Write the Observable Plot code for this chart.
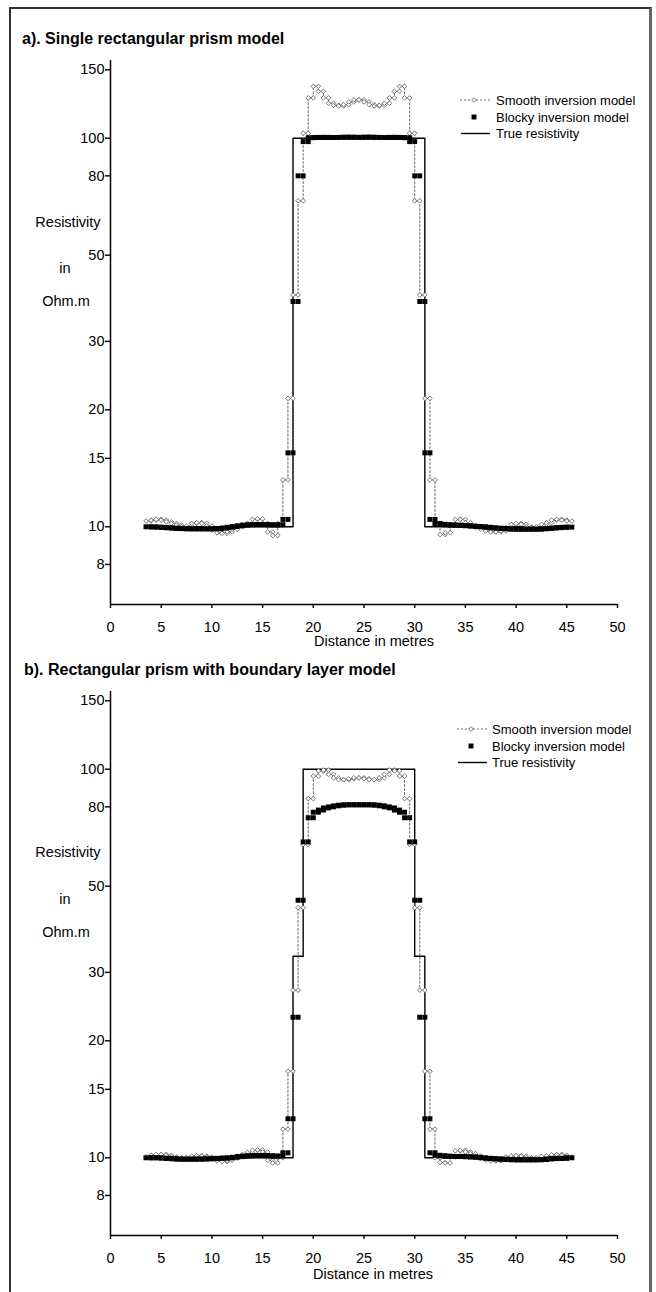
<!DOCTYPE html>
<html><head><meta charset="utf-8">
<script src="https://cdn.jsdelivr.net/npm/d3@7"></script>
<script src="https://cdn.jsdelivr.net/npm/@observablehq/plot@0.6"></script>
<style>
html,body{margin:0;padding:0;background:#fff;}
body{width:656px;height:1292px;overflow:hidden;position:relative;font-family:"Liberation Sans",Arial,sans-serif;color:#000;}
#frame{position:absolute;left:9px;top:7px;width:638px;height:1310px;border-left:2px solid #333;border-top:2px solid #333;border-right:3px solid #666;}
.abs{position:absolute;white-space:nowrap;color:#000;line-height:1;}
.title{font-weight:bold;font-size:16px;transform:translate(0,-50%);}
.lab{font-size:14.5px;transform:translate(-50%,-50%);}
.plotbox{position:absolute;left:0;}
.plotbox svg [aria-label="x-axis tick"], .plotbox svg [aria-label="y-axis tick"],
.plotbox svg [aria-label="x-axis tick"] *, .plotbox svg [aria-label="y-axis tick"] *{stroke-width:1.4px;}
.legend{position:absolute;overflow:visible;}
</style></head><body>
<div id="frame"></div>
<script>
// ---------------- data ----------------
const xTicks = [0, 5, 10, 15, 20, 25, 30, 35, 40, 45, 50];
const yTicks = [8, 10, 15, 20, 30, 50, 80, 100, 150];

// model cell boundaries (m); cell i spans cellEdges[i]..cellEdges[i+1]
const cellEdges = [3.5,4,4.5,5,5.5,6,6.5,7,7.5,8,8.5,9,9.5,10,10.5,11,11.5,12,12.5,13,13.5,14,14.5,15,15.5,16,16.5,
  17,17.5,18,18.5,19,19.5,20,20.5,21,21.5,22,22.5,23,23.5,24,24.5,25,25.5,26,26.5,27,27.5,28,28.5,29,29.5,30,30.5,31,31.5,
  32,32.5,33,33.5,34,34.5,35,35.5,36,36.5,37,37.5,38,38.5,39,39.5,40,40.5,41,41.5,42,42.5,43,43.5,44,44.5,45,45.5];

// a) single rectangular prism
const smoothA = [10.35,10.4,10.45,10.4,10.3,10.2,10.1,10.0,10.05,10.2,10.25,10.2,10.05,9.8,9.65,9.62,9.7,9.85,10.0,10.1,10.2,10.45,10.48,10.2,9.7,9.5,10.2,
  13.2,21.4,39.5,69,103,127,136,132,127,123,121.5,121,122,124,125.5,125.5,124,122,121,121.5,123,127,132,136,127,103,69,39.5,21.4,13.2,
  10.2,9.55,9.65,10.1,10.45,10.45,10.25,10.05,9.95,9.85,9.75,9.7,9.7,9.75,9.95,10.15,10.2,10.15,10.0,9.95,10.0,10.15,10.25,10.4,10.45,10.4,10.35];
const blockyA = [10.0,9.99,9.98,9.96,9.94,9.92,9.9,9.89,9.88,9.88,9.88,9.88,9.88,9.88,9.9,9.93,9.97,10.02,10.06,10.1,10.12,10.13,10.13,10.13,10.12,10.11,10.12,
  10.45,15.5,38,80,98,100.3,100.4,100.5,100.5,100.4,100.4,100.5,100.6,100.6,100.5,100.5,100.6,100.6,100.5,100.4,100.4,100.5,100.5,100.4,100.3,98,80,38,15.5,10.45,
  10.2,10.15,10.12,10.1,10.1,10.08,10.06,10.04,10.02,10.0,9.97,9.94,9.92,9.9,9.88,9.86,9.86,9.86,9.86,9.86,9.86,9.88,9.9,9.93,9.95,9.97,9.98];
const trueEdgesA = [3.5, 18, 31, 45.5];
const trueValuesA = [10, 100, 10];

// b) rectangular prism with boundary layer
const smoothB = [10.05,10.15,10.2,10.2,10.15,10.05,10.0,9.97,10.02,10.1,10.12,10.1,10.05,9.95,9.82,9.78,9.85,9.98,10.1,10.2,10.32,10.45,10.48,10.35,9.85,9.7,10.0,
  11.85,16.7,27,44,64,84,96,99,99.5,97,95,94,94,94.5,95,95,94.5,94,94,95,97,99.5,99,96,84,64,44,27,16.7,11.85,
  10.0,9.72,9.7,10.05,10.42,10.45,10.35,10.25,10.1,9.97,9.87,9.82,9.82,9.9,10.05,10.12,10.12,10.1,10.0,9.97,10.0,10.08,10.12,10.18,10.2,10.15,10.05];
const blockyB = [10.0,10.0,10.0,9.98,9.96,9.94,9.92,9.92,9.92,9.92,9.92,9.93,9.94,9.95,9.97,9.98,10.0,10.03,10.07,10.1,10.12,10.13,10.13,10.13,10.12,10.1,10.1,
  10.3,12.6,23,46,65,75,77.5,78.5,79.5,80,80.5,80.8,81,81,81,81,81,81,80.8,80.5,80,79.5,78.5,77.5,75,65,46,23,12.6,10.3,
  10.15,10.12,10.1,10.08,10.08,10.08,10.06,10.05,10.03,10.0,9.97,9.95,9.93,9.92,9.9,9.88,9.88,9.88,9.88,9.88,9.88,9.9,9.93,9.95,9.96,9.97,10.0];
const trueEdgesB = [3.5, 18, 19, 30, 31, 45.5];
const trueValuesB = [10, 33, 100, 33, 10];

const titles = ["a). Single rectangular prism model", "b). Rectangular prism with boundary layer model"];
const legendLabels = ["Smooth inversion model", "Blocky inversion model", "True resistivity"];
const yLabelLines = ["Resistivity", "in", "Ohm.m"];
const xLabel = "Distance in metres";

// ---------------- helpers ----------------
function steps(edges, values) {
  const pts = [];
  values.forEach((v, i) => { pts.push({x: edges[i], y: v}, {x: edges[i + 1], y: v}); });
  return pts;
}
function text(str, x, y, cls) {
  const d = document.createElement("div");
  d.className = "abs " + cls;
  d.style.left = x + "px"; d.style.top = y + "px";
  d.textContent = str;
  document.body.appendChild(d);
}
const FONT = "'Liberation Sans', Arial, sans-serif";
const yMin = Math.pow(10, 0.8), yMax = Math.pow(10, 2.2);

function panel(top, smooth, blocky, tEdges, tValues) {
  const sPts = steps(cellEdges, smooth);
  const bPts = steps(cellEdges, blocky);
  const tPts = steps(tEdges, tValues);
  const chart = Plot.plot({
    width: 656, height: 600,
    marginTop: 10, marginBottom: 46, marginLeft: 110, marginRight: 39,
    style: {fontFamily: FONT, fontSize: "14.5px", color: "#000", background: "transparent", overflow: "visible"},
    x: {domain: [0, 50], ticks: xTicks, tickSize: 4, tickPadding: 13, label: null},
    y: {type: "log", domain: [yMin, yMax], ticks: yTicks, tickFormat: () => "", tickSize: 5, tickPadding: 1, label: null},
    marks: [
      Plot.ruleX([0], {stroke: "#000", strokeWidth: 1.5}),
      Plot.ruleY([yMin], {stroke: "#000", strokeWidth: 1.5}),
      // y tick labels (drawn explicitly so that every tick gets its number on the log scale)
      Plot.text(yTicks, {y: d => d, text: d => String(d), frameAnchor: "left", textAnchor: "end", dx: -6, fill: "#000", fontSize: 14.5}),
      Plot.line(tPts, {x: "x", y: "y", stroke: "#000", strokeWidth: 1.4}),
      Plot.line(sPts, {x: "x", y: "y", stroke: "#444", strokeWidth: 0.8, strokeDasharray: "2,2"}),
      Plot.dot(sPts, {x: "x", y: "y", symbol: "diamond2", r: 2.1, stroke: "#555", fill: "white", strokeWidth: 0.8}),
      Plot.dot(bPts, {x: "x", y: "y", symbol: "square", r: 2.8, fill: "#000", stroke: "none"})
    ]
  });
  const box = document.createElement("div");
  box.className = "plotbox";
  box.style.top = top + "px";
  box.appendChild(chart);
  document.body.appendChild(box);
}

function legend(left, top, textX) {
  const svg = d3.select(document.body).append("svg")
    .attr("class", "legend").attr("width", 200).attr("height", 50)
    .style("left", left + "px").style("top", top + "px");
  // smooth
  svg.append("line").attr("x1", 0).attr("x2", 30).attr("y1", 8).attr("y2", 8)
    .attr("stroke", "#444").attr("stroke-width", 0.8).attr("stroke-dasharray", "2,2");
  svg.append("path").attr("d", d3.symbol(d3.symbolDiamond2, 2.1 * 2.1 * Math.PI)())
    .attr("transform", "translate(14,8)").attr("fill", "white").attr("stroke", "#555").attr("stroke-width", 0.8);
  // blocky
  svg.append("path").attr("d", d3.symbol(d3.symbolSquare, 2.8 * 2.8 * Math.PI)())
    .attr("transform", "translate(14,25)").attr("fill", "#000");
  // true
  svg.append("line").attr("x1", 1).attr("x2", 30).attr("y1", 41.5).attr("y2", 41.5)
    .attr("stroke", "#000").attr("stroke-width", 1.4);
  legendLabels.forEach((s, i) => {
    svg.append("text").attr("x", textX).attr("y", [8, 25, 41.5][i]).attr("dy", "0.36em")
      .attr("font-family", FONT).attr("font-size", 13).attr("fill", "#000").text(s);
  });
}

// ---------------- panel a ----------------
text(titles[0], 22, 39, "title");
panel(50, smoothA, blockyA, trueEdgesA, trueValuesA);
legend(460, 92, 36);
text(yLabelLines[0], 68, 222, "lab");
text(yLabelLines[1], 65, 268, "lab");
text(yLabelLines[2], 66, 301, "lab");
text(xLabel, 374, 641, "lab");

// ---------------- panel b ----------------
text(titles[1], 24, 670, "title");
panel(681, smoothB, blockyB, trueEdgesB, trueValuesB);
legend(457, 721, 35);
text(yLabelLines[0], 68, 852, "lab");
text(yLabelLines[1], 65, 899, "lab");
text(yLabelLines[2], 66, 932, "lab");
text(xLabel, 373, 1274, "lab");
</script>
</body></html>
